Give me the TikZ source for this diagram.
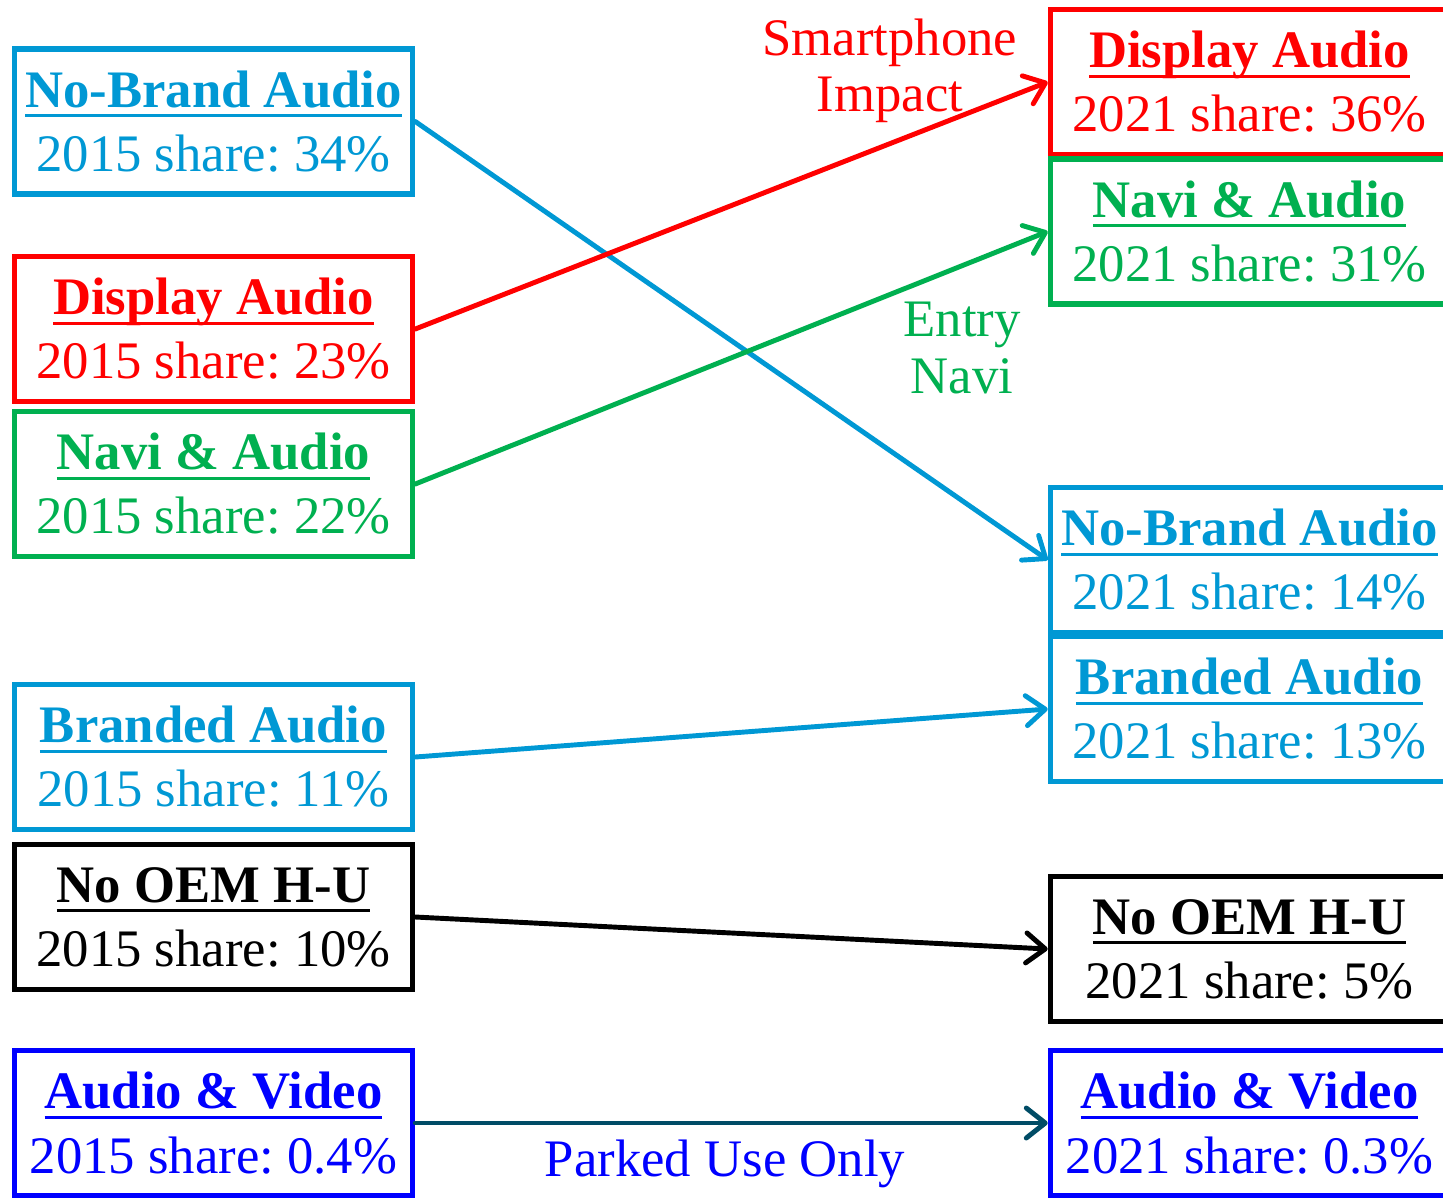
\documentclass[tikz,border=0pt]{standalone}
\usepackage{fontspec}
\setmainfont{Liberation Serif}
\usetikzlibrary{arrows.meta}
\definecolor{skyblue}{RGB}{0,152,212}
\definecolor{brightred}{RGB}{255,0,0}
\definecolor{leafgreen}{RGB}{0,176,80}
\definecolor{darkteal}{RGB}{0,76,102}
\definecolor{pureblue}{RGB}{0,0,255}
\frenchspacing
\newsavebox{\hdbox}
\newcommand{\hd}[1]{\sbox{\hdbox}{\textbf{#1}}\rlap{\usebox{\hdbox}}\raisebox{-5.5pt}{\rule{\wd\hdbox}{1.6pt}}}
\begin{document}
\begin{tikzpicture}[x=0.02cm,y=-0.02cm,
  box/.style={draw=#1,text=#1,line width=3.2pt,minimum width=7.96cm,minimum height=2.9cm,
    align=center,inner sep=0pt,font=\fontsize{30}{36.5}\selectfont},
  flow/.style={draw=#1,line width=2.8pt,line cap=round,-{Straight Barb[length=3.8mm,width=6mm,round]}},
  lbl/.style={text=#1,align=center,font=\fontsize{30}{32}\selectfont}]
\useasboundingbox (0,0) rectangle (1443,1198);
\clip (0,0) rectangle (1443,1198);

% 2015
\node[box=skyblue] (nb15) at (213.5,121.5) {\hd{No-Brand Audio}\\2015 share: 34\%};
\node[box=brightred] (da15) at (213.5,329) {\hd{Display Audio}\\2015 share: 23\%};
\node[box=leafgreen] (na15) at (213.5,484) {\hd{Navi \& Audio}\\2015 share: 22\%};
\node[box=skyblue] (ba15) at (213.5,757) {\hd{Branded Audio}\\2015 share: 11\%};
\node[box=black] (no15) at (213.5,917) {\hd{No OEM H-U}\\2015 share: 10\%};
\node[box=pureblue] (av15) at (213.5,1123) {\hd{Audio \& Video}\\2015 share: 0.4\%};

% 2021
\node[box=brightred] (da21) at (1249.5,82) {\hd{Display Audio}\\2021 share: 36\%};
\node[box=leafgreen] (na21) at (1249.5,231.5) {\hd{Navi \& Audio}\\2021 share: 31\%};
\node[box=skyblue] (nb21) at (1249.5,560) {\hd{No-Brand Audio}\\2021 share: 14\%};
\node[box=skyblue] (ba21) at (1249.5,709) {\hd{Branded Audio}\\2021 share: 13\%};
\node[box=black] (no21) at (1249.5,949) {\hd{No OEM H-U}\\2021 share: 5\%};
\node[box=pureblue] (av21) at (1249.5,1123) {\hd{Audio \& Video}\\2021 share: 0.3\%};

\draw[flow=skyblue] (nb15.east) -- (nb21.west);
\draw[flow=brightred] (da15.east) -- (da21.west);
\draw[flow=leafgreen] (na15.east) -- (na21.west);
\draw[flow=skyblue] (ba15.east) -- (ba21.west);
\draw[flow=black] (no15.east) -- (no21.west);
\draw[flow=darkteal] (av15.east) -- (av21.west);

\node[lbl=brightred] (smart) at (890,71) {Smartphone\\Impact};
\node[lbl=leafgreen] (entry) at (962,348) {Entry\\Navi};
\node[lbl=pureblue] (parked) at (725,1164) {Parked Use Only};
\end{tikzpicture}
\end{document}
